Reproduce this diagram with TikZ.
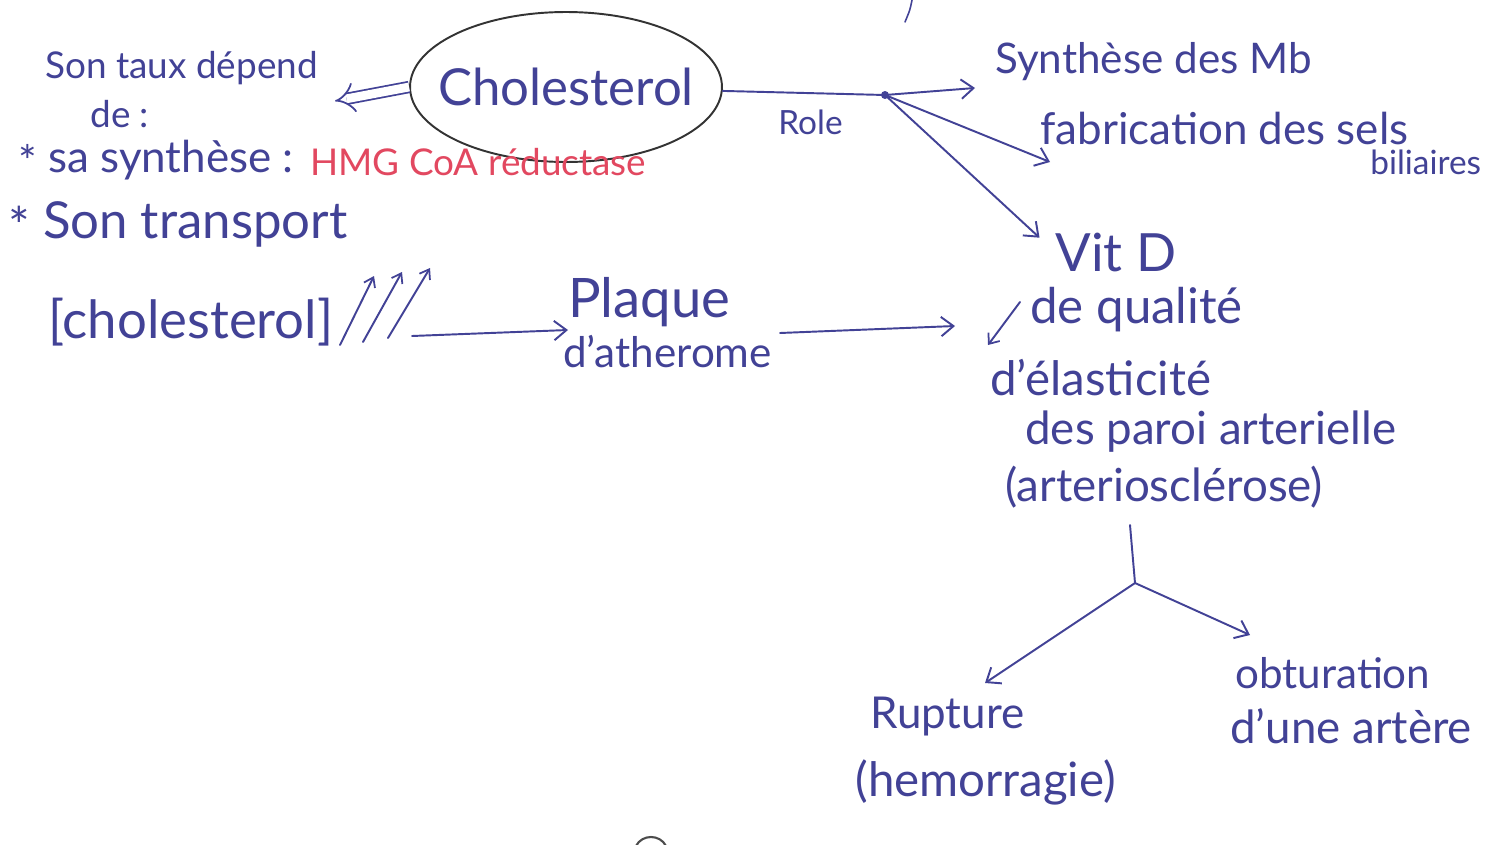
\documentclass[tikz,border=0pt]{standalone}
\usepackage{fontspec}
\setmainfont{Lato}
\usetikzlibrary{arrows.meta,shapes.geometric}
\definecolor{ink}{RGB}{66,66,150}
\definecolor{redink}{RGB}{226,72,96}
\definecolor{paper}{RGB}{255,255,255}
\tikzset{
  txt/.style={text=ink, inner sep=0pt, anchor=west, font=\fontsize{#1}{#1}\selectfont},
  txt/.default=21,
  redtxt/.style={text=redink, inner sep=0pt, anchor=west, font=\fontsize{#1}{#1}\selectfont},
  pen/.style={draw=ink, line width=1.1pt, line cap=round, line join=round},
  arr/.style={pen, -{Straight Barb[length=7pt,width=11pt,line width=1.1pt]}},
  smallarr/.style={pen, -{Straight Barb[length=5pt,width=7pt,line width=1pt]}},
  hollow/.style={draw=ink, line width=1pt, double=paper, double distance=5pt,
    -{Implies[length=11pt]}},
  bubble/.style={ellipse, draw=black!80, line width=1.1pt, inner sep=0pt,
    minimum width=6.24cm, minimum height=3cm, text=ink,
    font=\fontsize{29}{29}\selectfont}
}
\newcommand{\listmark}{\raisebox{-0.25ex}{*}}
\begin{document}
\begin{tikzpicture}[x=0.02cm, y=-0.02cm]
  \useasboundingbox[fill=paper] (0,0) rectangle (1501,845);

  % central bubble
  \node[bubble] (chol) at (566,87) {\makebox[0pt]{Cholesterol}};

  % what its level depends on
  \node[txt=21] (taux) at (45,68) {Son taux dépend};
  \node[txt=21] (de) at (90,114) {de :};
  \node[txt=25] (synth) at (18,160) {\listmark\ sa synthèse :};
  \node[redtxt=21] (hmg) at (310,162) {HMG CoA réductase};
  \node[txt=29] (transp) at (8,224) {\listmark\ Son transport};
  \coordinate (hollowtip) at (335,101);
  \draw[hollow] (chol.west) -- (hollowtip);

  % roles
  \coordinate (hub) at (885,95);
  \draw[pen] (chol) -- (hub);
  \fill[ink] (hub) circle (4);
  \node[txt=19] (role) at (778,122) {Role};
  \node[txt=24] (mb) at (995,62) {Synthèse des Mb};
  \node[txt=25] (fab) at (1040,128) {fabrication des sels};
  \node[txt=19] (bil) at (1370,162) {biliaires};
  \node[txt=30] (vitd) at (1055,252) {Vit D};
  \coordinate (mbtip) at (975,88);
  \coordinate (fabtip) at (1050,162);
  \draw[arr] (hub) -- (mbtip);
  \draw[arr] (hub) -- (fabtip);
  \draw[arr, shorten >=12] (hub) -- (vitd.west);

  % raised cholesterol level
  \node[txt=30] (level) at (48,322) {[cholesterol]};
  \coordinate (u1a) at (340,345); \coordinate (u1b) at (374,276);
  \coordinate (u2a) at (363,342); \coordinate (u2b) at (402,272);
  \coordinate (u3a) at (388,338); \coordinate (u3b) at (430,268);
  \draw[smallarr] (u1a) -- (u1b);
  \draw[smallarr] (u2a) -- (u2b);
  \draw[smallarr] (u3a) -- (u3b);

  \node[txt=31] (plaque) at (568,302) {Plaque};
  \node[txt=24] (athero) at (563,352) {d'atherome};
  \coordinate (lvlend) at (412,336);
  \draw[arr] (lvlend) -- (plaque.west |- 0,330);

  % consequences on the arterial wall
  \node[txt=28] (qual) at (1030,310) {de qualité};
  \node[txt=27] (elast) at (990,378) {d'élasticité};
  \node[txt=26] (paroi) at (1025,432) {des paroi arterielle};
  \node[txt=26] (sclero) at (1005,487) {(arteriosclérose)};
  \coordinate (down1) at (1020,302);
  \coordinate (down2) at (988,345);
  \draw[pen, -{Straight Barb[length=5pt,width=8pt,line width=1pt]}] (down1) -- (down2);
  \coordinate (plqend) at (780,333);
  \coordinate (plqtip) at (955,326);
  \draw[arr] (plqend) -- (plqtip);

  % outcomes
  \coordinate (fork) at (1135,583);
  \coordinate (stem) at (1130,525);
  \draw[pen] (stem) -- (fork);
  \node[txt=25] (rupt) at (870,717) {Rupture};
  \node[txt=27] (hemo) at (855,782) {(hemorragie)};
  \node[txt=24] (obtu) at (1235,673) {obturation};
  \node[txt=26] (artere) at (1230,726) {d'une artère};
  \coordinate (rtip) at (985,683);
  \coordinate (otip) at (1250,635);
  \draw[arr] (fork) -- (rtip);
  \draw[arr] (fork) -- (otip);

  % strokes cut off by the page edges
  \draw[pen, line width=0.9pt] (912,0) .. controls (910,10) .. (905,22);
  \draw[draw=black!70, line width=1.2pt] (636,846) .. controls (642,834) and (660,834) .. (666,846);
\end{tikzpicture}
\end{document}
